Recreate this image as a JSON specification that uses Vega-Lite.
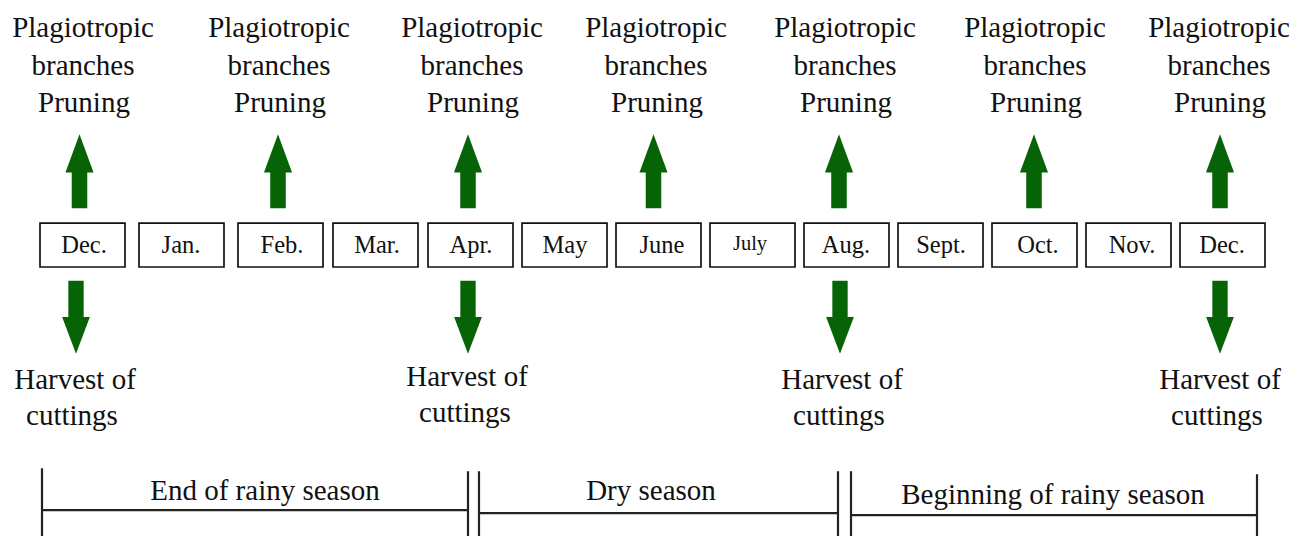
{
  "$schema": "https://vega.github.io/schema/vega-lite/v6.json",
  "width": 1302,
  "height": 538,
  "autosize": {"type": "fit", "contains": "padding"},
  "padding": 0,
  "background": "white",
  "config": {"view": {"stroke": null}},
  "datasets": {
    "boxes": [
      {"id": 1, "month": "Dec.", "left": 40, "right": 125, "top": 224, "bottom": 268, "xc": 84, "yb": 254},
      {"id": 2, "month": "Jan.", "left": 139, "right": 224, "top": 224, "bottom": 268, "xc": 181, "yb": 254},
      {"id": 3, "month": "Feb.", "left": 238, "right": 323, "top": 224, "bottom": 268, "xc": 282, "yb": 254},
      {"id": 4, "month": "Mar.", "left": 333, "right": 418, "top": 224, "bottom": 268, "xc": 377, "yb": 254},
      {"id": 5, "month": "Apr.", "left": 428, "right": 513, "top": 224, "bottom": 268, "xc": 471, "yb": 254},
      {"id": 6, "month": "May", "left": 522, "right": 607, "top": 224, "bottom": 268, "xc": 565, "yb": 254},
      {"id": 7, "month": "June", "left": 616, "right": 701, "top": 224, "bottom": 268, "xc": 662, "yb": 254},
      {"id": 8, "month": "July", "left": 710, "right": 795, "top": 224, "bottom": 268, "xc": 750, "yb": 251},
      {"id": 9, "month": "Aug.", "left": 804, "right": 889, "top": 224, "bottom": 268, "xc": 846, "yb": 254},
      {"id": 10, "month": "Sept.", "left": 898, "right": 983, "top": 224, "bottom": 268, "xc": 941, "yb": 254},
      {"id": 11, "month": "Oct.", "left": 992, "right": 1077, "top": 224, "bottom": 268, "xc": 1038, "yb": 254},
      {"id": 12, "month": "Nov.", "left": 1086, "right": 1171, "top": 224, "bottom": 268, "xc": 1132, "yb": 254},
      {"id": 13, "month": "Dec.", "left": 1180, "right": 1265, "top": 224, "bottom": 268, "xc": 1222, "yb": 254}
    ],
    "arrows": [
      {"dir": "up", "x": 79.5, "y": 172},
      {"dir": "up", "x": 278, "y": 172},
      {"dir": "up", "x": 468, "y": 172},
      {"dir": "up", "x": 653.5, "y": 172},
      {"dir": "up", "x": 839, "y": 172},
      {"dir": "up", "x": 1034, "y": 172},
      {"dir": "up", "x": 1220, "y": 172},
      {"dir": "down", "x": 76, "y": 318.5},
      {"dir": "down", "x": 468, "y": 318.5},
      {"dir": "down", "x": 840, "y": 318.5},
      {"dir": "down", "x": 1220, "y": 318.5}
    ],
    "labels": [
      {"text": "Plagiotropic", "x": 83, "y": 37},
      {"text": "branches", "x": 83, "y": 75},
      {"text": "Pruning", "x": 84, "y": 112},
      {"text": "Plagiotropic", "x": 279, "y": 37},
      {"text": "branches", "x": 279, "y": 75},
      {"text": "Pruning", "x": 280, "y": 112},
      {"text": "Plagiotropic", "x": 472, "y": 37},
      {"text": "branches", "x": 472, "y": 75},
      {"text": "Pruning", "x": 473, "y": 112},
      {"text": "Plagiotropic", "x": 656, "y": 37},
      {"text": "branches", "x": 656, "y": 75},
      {"text": "Pruning", "x": 657, "y": 112},
      {"text": "Plagiotropic", "x": 845, "y": 37},
      {"text": "branches", "x": 845, "y": 75},
      {"text": "Pruning", "x": 846, "y": 112},
      {"text": "Plagiotropic", "x": 1035, "y": 37},
      {"text": "branches", "x": 1035, "y": 75},
      {"text": "Pruning", "x": 1036, "y": 112},
      {"text": "Plagiotropic", "x": 1219, "y": 37},
      {"text": "branches", "x": 1219, "y": 75},
      {"text": "Pruning", "x": 1220, "y": 112},
      {"text": "Harvest of", "x": 75, "y": 390},
      {"text": "cuttings", "x": 72, "y": 427},
      {"text": "Harvest of", "x": 467, "y": 387},
      {"text": "cuttings", "x": 465, "y": 424},
      {"text": "Harvest of", "x": 842, "y": 390},
      {"text": "cuttings", "x": 839, "y": 427},
      {"text": "Harvest of", "x": 1220, "y": 390},
      {"text": "cuttings", "x": 1217, "y": 427}
    ],
    "seasons": [
      {"text": "End of rainy season", "x": 265, "y": 502},
      {"text": "Dry season", "x": 651, "y": 502},
      {"text": "Beginning of rainy season", "x": 1053, "y": 506}
    ],
    "lines": [
      {"x": 42, "y": 470, "x2": 42, "y2": 538},
      {"x": 468, "y": 473, "x2": 468, "y2": 538},
      {"x": 479, "y": 473, "x2": 479, "y2": 538},
      {"x": 838, "y": 473, "x2": 838, "y2": 538},
      {"x": 851, "y": 473, "x2": 851, "y2": 538},
      {"x": 1257, "y": 476, "x2": 1257, "y2": 538},
      {"x": 42, "y": 512, "x2": 468, "y2": 512},
      {"x": 479, "y": 515, "x2": 838, "y2": 515},
      {"x": 851, "y": 517, "x2": 1257, "y2": 517}
    ]
  },
  "layer": [
    {
      "data": {"name": "lines"},
      "mark": {"type": "rule", "color": "#222222", "strokeWidth": 2.2},
      "encoding": {
        "x": {"field": "x", "type": "quantitative", "scale": {"domain": [0, 1302], "nice": false, "zero": false}, "axis": null},
        "y": {"field": "y", "type": "quantitative", "scale": {"domain": [0, 538], "nice": false, "zero": false, "reverse": true}, "axis": null},
        "x2": {"field": "x2"},
        "y2": {"field": "y2"}
      }
    },
    {
      "data": {"name": "boxes"},
      "mark": {"type": "rect", "fill": "white", "stroke": "#111111", "strokeWidth": 1.7},
      "encoding": {
        "x": {"field": "left", "type": "quantitative"},
        "x2": {"field": "right"},
        "y": {"field": "top", "type": "quantitative"},
        "y2": {"field": "bottom"}
      }
    },
    {
      "data": {"name": "boxes"},
      "mark": {"type": "text", "font": "Times New Roman, Liberation Serif, DejaVu Serif, serif", "color": "#111111", "align": "center", "baseline": "alphabetic"},
      "encoding": {
        "x": {"field": "xc", "type": "quantitative"},
        "y": {"field": "yb", "type": "quantitative"},
        "text": {"field": "month"},
        "size": {"condition": {"test": "datum.month === 'July'", "value": 20.5}, "value": 24.5}
      }
    },
    {
      "data": {"name": "arrows"},
      "transform": [{"filter": "datum.dir === 'up'"}],
      "mark": {"type": "point", "filled": true, "opacity": 1, "color": "#066406", "strokeWidth": 0, "size": 5476, "shape": "M0,-1L0.38,0.03L0.21,0.03L0.21,1L-0.21,1L-0.21,0.03L-0.38,0.03Z"},
      "encoding": {
        "x": {"field": "x", "type": "quantitative"},
        "y": {"field": "y", "type": "quantitative"}
      }
    },
    {
      "data": {"name": "arrows"},
      "transform": [{"filter": "datum.dir === 'down'"}],
      "mark": {"type": "point", "filled": true, "opacity": 1, "color": "#066406", "strokeWidth": 0, "size": 5329, "shape": "M-0.21,-1L0.21,-1L0.21,-0.01L0.38,-0.01L0,1L-0.38,-0.01L-0.21,-0.01Z"},
      "encoding": {
        "x": {"field": "x", "type": "quantitative"},
        "y": {"field": "y", "type": "quantitative"}
      }
    },
    {
      "data": {"name": "labels"},
      "mark": {"type": "text", "font": "Times New Roman, Liberation Serif, DejaVu Serif, serif", "fontSize": 29, "color": "#111111", "align": "center", "baseline": "alphabetic"},
      "encoding": {
        "x": {"field": "x", "type": "quantitative"},
        "y": {"field": "y", "type": "quantitative"},
        "text": {"field": "text"}
      }
    },
    {
      "data": {"name": "seasons"},
      "mark": {"type": "text", "font": "Times New Roman, Liberation Serif, DejaVu Serif, serif", "fontSize": 29, "color": "#111111", "align": "center", "baseline": "alphabetic"},
      "encoding": {
        "x": {"field": "x", "type": "quantitative"},
        "y": {"field": "y", "type": "quantitative"},
        "text": {"field": "text"}
      }
    }
  ]
}
